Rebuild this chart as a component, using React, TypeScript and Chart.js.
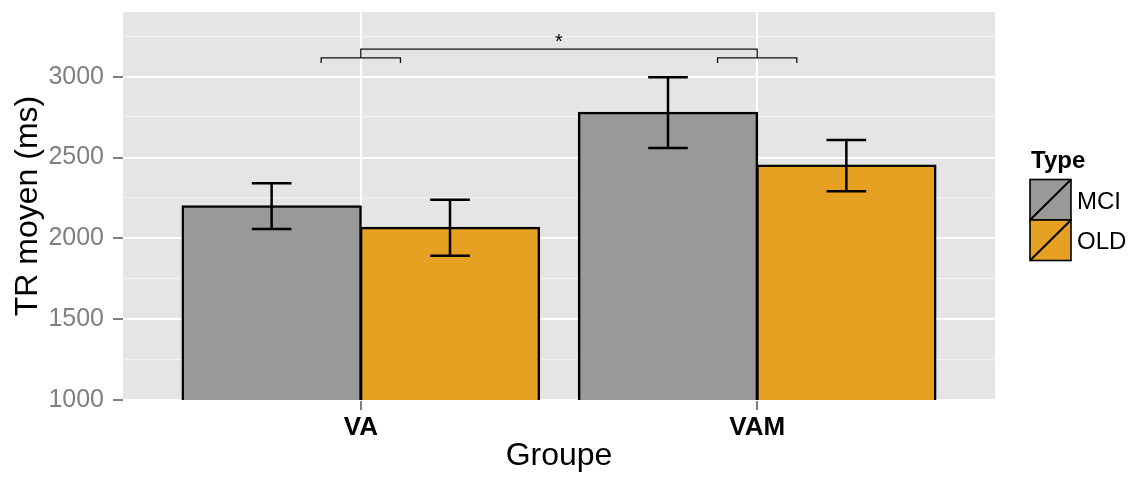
import React, { useEffect, useRef } from 'react';
import { Chart, registerables } from 'chart.js';

Chart.register(...registerables);

// ---- data ----
const groups = ['VA', 'VAM'];
const seriesNames = ['MCI', 'OLD'];
const seriesColors = ['#999998', '#E6A022'];
const mciMeans = [2199, 2777];
const mciErrors = [142, 219];
const oldMeans = [2066, 2450];
const oldErrors = [173, 158];
const yMin = 1000;
const yMax = 3400;
const yStep = 250;
const yLabelStep = 500;
// significance annotation (x in group units, y in ms)
const bracketLeft = [0.9, 1.1];
const bracketRight = [1.9, 2.1];
const bracketTips = 3084;
const bracketLevel = 3116;
const bracketTop = 3170;
const starLevel = 3212;
const starLabel = '*';
const whiskerHalf = 0.05;

const FONT = '"Liberation Sans", Arial, Helvetica, sans-serif';

const bgPlugin = {
  id: 'panelBg',
  beforeDraw(chart: any) {
    const { ctx, chartArea } = chart;
    ctx.save();
    ctx.fillStyle = '#E5E5E5';
    ctx.fillRect(chartArea.left, chartArea.top, chartArea.right - chartArea.left, chartArea.bottom - chartArea.top);
    ctx.restore();
  },
};

const errorPlugin = {
  id: 'errorBars',
  afterDatasetsDraw(chart: any) {
    const { ctx } = chart;
    const x = chart.scales.x;
    const y = chart.scales.y;
    const means = [mciMeans, oldMeans];
    const errs = [mciErrors, oldErrors];
    const half = x.getPixelForValue(1 + whiskerHalf) - x.getPixelForValue(1);
    ctx.save();
    ctx.strokeStyle = '#000000';
    ctx.lineWidth = 2.5;
    chart.data.datasets.forEach((_ds: any, i: number) => {
      const meta = chart.getDatasetMeta(i);
      meta.data.forEach((bar: any, j: number) => {
        const cx = bar.x;
        const hi = y.getPixelForValue(means[i][j] + errs[i][j]);
        const lo = y.getPixelForValue(means[i][j] - errs[i][j]);
        ctx.beginPath();
        ctx.moveTo(cx, hi);
        ctx.lineTo(cx, lo);
        ctx.moveTo(cx - half, hi);
        ctx.lineTo(cx + half, hi);
        ctx.moveTo(cx - half, lo);
        ctx.lineTo(cx + half, lo);
        ctx.stroke();
      });
    });

    // significance brackets
    ctx.lineWidth = 1.3;
    ctx.strokeStyle = '#111111';
    const px = (v: number) => x.getPixelForValue(v);
    const py = (v: number) => y.getPixelForValue(v);
    const small = (r: number[]) => {
      ctx.beginPath();
      ctx.moveTo(px(r[0]), py(bracketTips));
      ctx.lineTo(px(r[0]), py(bracketLevel));
      ctx.lineTo(px(r[1]), py(bracketLevel));
      ctx.lineTo(px(r[1]), py(bracketTips));
      ctx.stroke();
    };
    small(bracketLeft);
    small(bracketRight);
    const c1 = (bracketLeft[0] + bracketLeft[1]) / 2;
    const c2 = (bracketRight[0] + bracketRight[1]) / 2;
    ctx.beginPath();
    ctx.moveTo(px(c1), py(bracketLevel));
    ctx.lineTo(px(c1), py(bracketTop));
    ctx.lineTo(px(c2), py(bracketTop));
    ctx.lineTo(px(c2), py(bracketLevel));
    ctx.stroke();
    ctx.fillStyle = '#000000';
    ctx.font = `20px ${FONT}`;
    ctx.textAlign = 'center';
    ctx.textBaseline = 'middle';
    ctx.fillText(starLabel, px((c1 + c2) / 2), py(starLevel));
    ctx.restore();
  },
};

const legendPlugin = {
  id: 'ggLegend',
  afterDraw(chart: any) {
    const { ctx } = chart;
    ctx.save();
    ctx.fillStyle = '#000000';
    ctx.textAlign = 'left';
    ctx.textBaseline = 'alphabetic';
    ctx.font = `bold 24px ${FONT}`;
    ctx.fillText('Type', 1031, 168);
    const left = 1030;
    const w = 41;
    const h = 40.5;
    const top0 = 179.5;
    seriesNames.forEach((name, i) => {
      const t = top0 + i * h;
      ctx.fillStyle = seriesColors[i];
      ctx.fillRect(left, t, w, h);
      ctx.strokeStyle = '#000000';
      ctx.lineWidth = 1.6;
      ctx.strokeRect(left, t, w, h);
      ctx.beginPath();
      ctx.moveTo(left, t + h);
      ctx.lineTo(left + w, t);
      ctx.lineWidth = 2;
      ctx.stroke();
      ctx.fillStyle = '#000000';
      ctx.font = `24px ${FONT}`;
      ctx.fillText(name, 1077, t + 29);
    });
    ctx.restore();
  },
};

export default function App() {
  const ref = useRef<HTMLCanvasElement | null>(null);

  useEffect(() => {
    document.body.style.margin = '0';
    const canvas = ref.current;
    if (!canvas) return;
    const means = [mciMeans, oldMeans];
    const chart = new Chart(canvas, {
      type: 'bar',
      data: {
        datasets: seriesNames.map((name, i) => ({
          label: name,
          data: groups.map((_g, j) => ({ x: j + 1, y: means[i][j] })),
          backgroundColor: seriesColors[i],
          borderColor: '#000000',
          borderWidth: 2.5,
          borderSkipped: 'bottom',
          inflateAmount: 1,
          categoryPercentage: 0.9,
          barPercentage: 1.0,
        })),
      },
      options: {
        responsive: false,
        animation: false,
        devicePixelRatio: 1,
        layout: { padding: { left: 0, top: 12, right: 138, bottom: 0 } },
        plugins: {
          legend: { display: false },
          tooltip: { enabled: false },
        },
        scales: {
          x: {
            type: 'linear',
            min: 0.4,
            max: 2.6,
            offset: false,
            afterBuildTicks: (scale: any) => {
              scale.ticks = groups.map((_g, j) => ({ value: j + 1 }));
            },
            afterFit: (scale: any) => {
              scale.height = 77;
              scale.paddingLeft = 0;
              scale.paddingRight = 0;
            },
            grid: {
              offset: false,
              color: '#FFFFFF',
              lineWidth: 2,
              tickColor: '#7F7F7F',
              tickLength: 10,
              tickWidth: 2,
            },
            border: { display: false },
            ticks: {
              autoSkip: false,
              maxRotation: 0,
              padding: 2,
              color: '#000000',
              font: { family: FONT, size: 26, weight: 'bold' },
              callback: (v: any) => groups[Math.round(Number(v)) - 1] ?? '',
            },
            title: {
              display: true,
              text: 'Groupe',
              color: '#000000',
              font: { family: FONT, size: 32 },
              padding: { top: 0, bottom: 2 },
            },
          },
          y: {
            min: yMin,
            max: yMax,
            afterFit: (scale: any) => {
              scale.width = 123;
              scale.paddingTop = 0;
              scale.paddingBottom = 0;
            },
            grid: {
              color: (c: any) => (c.tick && c.tick.value % yLabelStep === 0 ? '#FFFFFF' : '#F2F2F2'),
              lineWidth: (c: any) => (c.tick && c.tick.value % yLabelStep === 0 ? 2 : 1.2),
              tickColor: (c: any) => (c.tick && c.tick.value % yLabelStep === 0 ? '#7F7F7F' : 'rgba(0,0,0,0)'),
              tickLength: 10,
              tickWidth: 2,
            },
            border: { display: false },
            ticks: {
              stepSize: yStep,
              includeBounds: false,
              autoSkip: false,
              padding: 9,
              color: '#7F7F7F',
              font: { family: FONT, size: 25 },
              callback: (v: any) => (Number(v) % yLabelStep === 0 ? String(v) : ''),
            },
            title: {
              display: true,
              text: 'TR moyen (ms)',
              color: '#000000',
              font: { family: FONT, size: 32 },
              padding: { top: 9, bottom: 0 },
            },
          },
        },
      } as any,
      plugins: [bgPlugin, errorPlugin, legendPlugin],
    });
    return () => chart.destroy();
  }, []);

  return (
    <div style={{ width: 1133, height: 477, background: '#FFFFFF' }}>
      <canvas ref={ref} width={1133} height={477} style={{ display: 'block' }} />
    </div>
  );
}
